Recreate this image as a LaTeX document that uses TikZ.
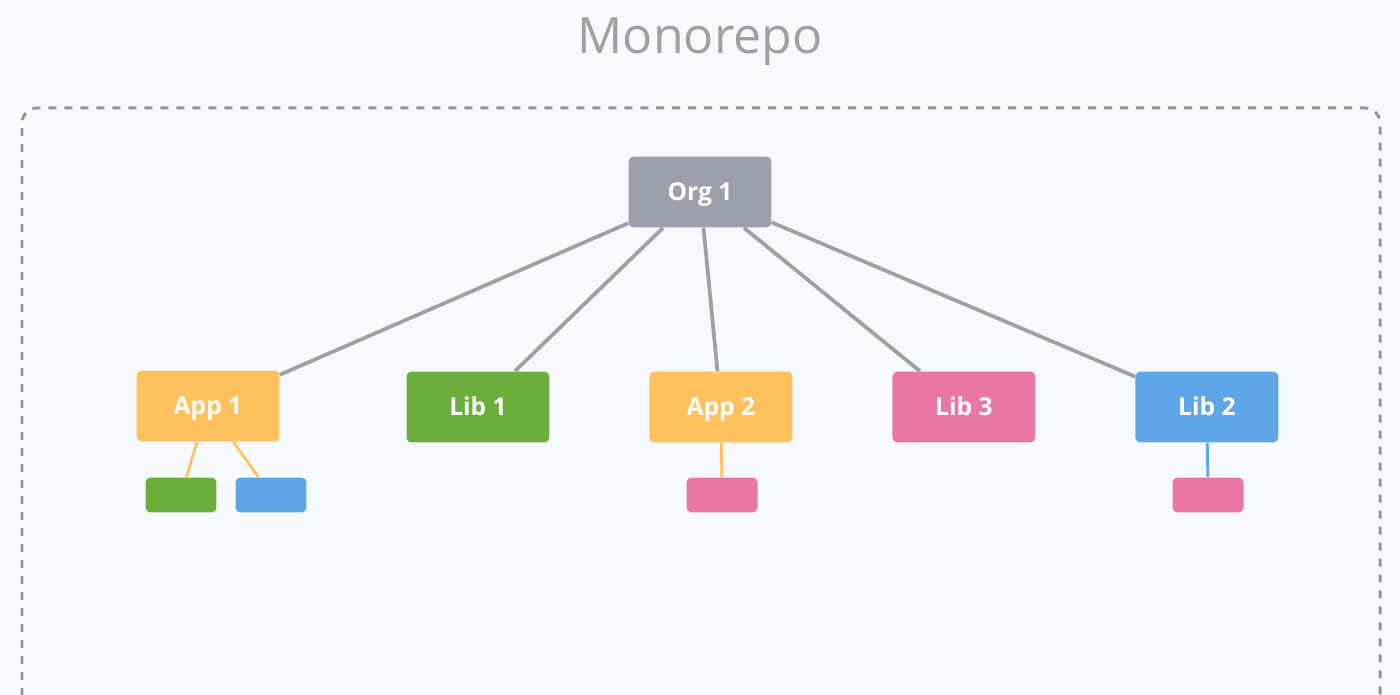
\documentclass[tikz,border=0pt]{standalone}
\usepackage{fontspec}
\setmainfont{Open Sans}
\usepackage{tikz}
\definecolor{bgcol}{RGB}{247,250,252}
\definecolor{orgcol}{RGB}{155,161,172}
\definecolor{appcol}{RGB}{255,193,94}
\definecolor{greencol}{RGB}{108,174,60}
\definecolor{bluecol}{RGB}{94,166,232}
\definecolor{pinkcol}{RGB}{234,118,164}
\definecolor{edgecol}{RGB}{155,161,170}
\definecolor{framecol}{RGB}{150,150,150}
\definecolor{titlecol}{RGB}{160,160,160}

\begin{document}
\begin{tikzpicture}[x=0.02cm,y=-0.02cm,node distance=4.86cm]
\tikzstyle{box}=[rectangle,rounded corners=0.1cm,minimum width=2.86cm,minimum height=1.42cm,inner sep=0pt,text height=0.95em,text depth=0pt,text=white,font=\bfseries\fontsize{14}{17}\selectfont]
\tikzstyle{orgbox}=[box,fill=orgcol]
\tikzstyle{appbox}=[box,fill=appcol]
\tikzstyle{greenbox}=[box,fill=greencol]
\tikzstyle{bluebox}=[box,fill=bluecol]
\tikzstyle{pinkbox}=[box,fill=pinkcol]
\tikzstyle{leaf}=[minimum width=1.42cm,minimum height=0.7cm]

\fill[bgcol] (0,0) rectangle (1400,695);
\useasboundingbox (0,0) rectangle (1400,695);

\node [text=titlecol,font=\fontsize{28.5}{32}\selectfont] (T) at (700,42) {Monorepo};
\draw [framecol,line width=0.06cm,dash pattern=on 0.16cm off 0.16cm,rounded corners=0.3cm]
 (22,760) -- (22,108) -- (1380,108) -- (1380,760);

\node [orgbox] (O) at (700,192) {Org 1};
\node [appbox] (A1) at (208,406) {App 1};
\node [greenbox] (L1) at (478,407) {Lib 1};
\node [appbox,right of=L1] (A2) {App 2};
\node [pinkbox,right of=A2] (L3) {Lib 3};
\node [bluebox,right of=L3] (L2) {Lib 2};

\node [greenbox,leaf] (A1a) at (181,495) {};
\node [bluebox,leaf] (A1b) at (271,495) {};
\node [pinkbox,leaf] (A2a) at (722,495) {};
\node [pinkbox,leaf] (L2a) at (1208,495) {};

\path[edgecol,line width=0.075cm]
 (O) edge (A1)
 (O) edge (L1)
 (O) edge (A2)
 (O) edge (L3)
 (O) edge (L2);
\path[line width=0.055cm]
 (A1) edge[appcol] (A1a)
 (A1) edge[appcol] (A1b)
 (A2) edge[appcol] (A2a)
 (L2) edge[bluecol] (L2a);
\end{tikzpicture}
\end{document}
